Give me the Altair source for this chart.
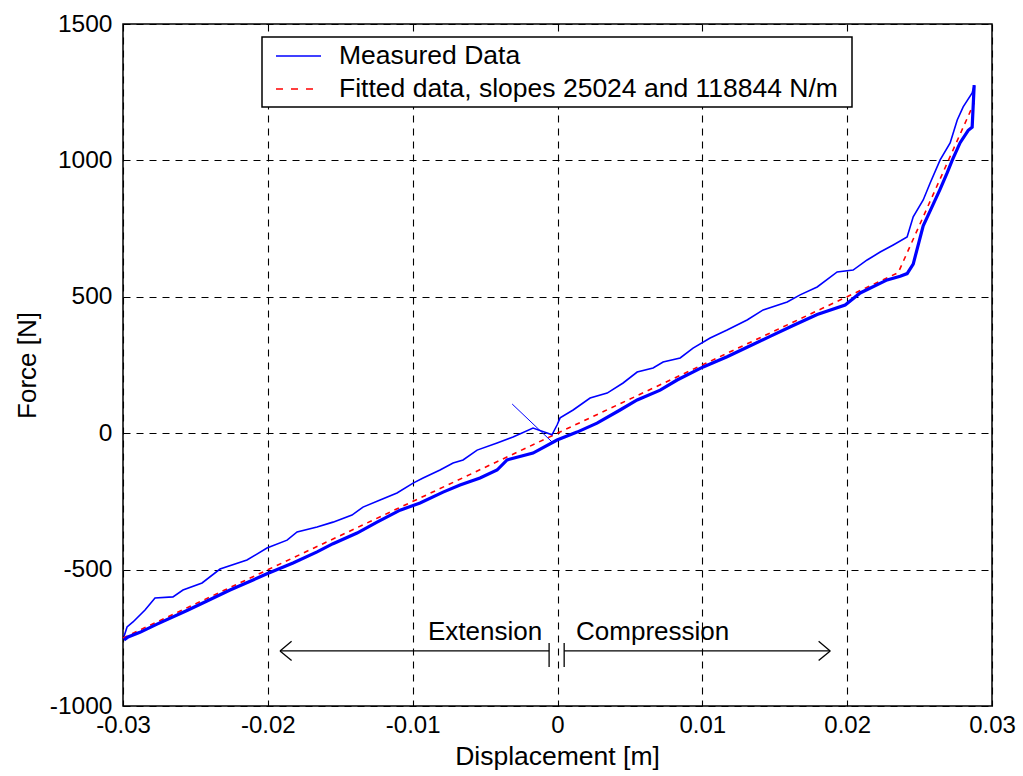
import altair as alt
import pandas as pd

upper_x = [-0.02993, -0.02972, -0.02931, -0.02848, -0.02779, -0.02655, -0.02586, -0.02454, -0.02330,
           -0.02144, -0.02006, -0.01867, -0.01798, -0.01660, -0.01550, -0.01419, -0.01343, -0.01225,
           -0.01108, -0.00997, -0.00928, -0.00811, -0.00721, -0.00652, -0.00555, -0.00417, -0.00307,
           -0.00169, -0.00072, -0.00038, -0.00003, 0.00018, 0.00108, 0.00225, 0.00343, 0.00453, 0.00550,
           0.00660, 0.00729, 0.00847, 0.00936, 0.01054, 0.01171, 0.01309, 0.01420, 0.01586, 0.01675,
           0.01793, 0.01931, 0.02041, 0.02138, 0.02228, 0.02318, 0.02414, 0.02456, 0.02525, 0.02573,
           0.02642, 0.02711, 0.02760, 0.02801, 0.02863, 0.02877]
upper_y = [-745, -710, -692, -648, -604, -600, -575, -549, -498,
           -465, -421, -392, -362, -344, -326, -300, -271, -245,
           -219, -183, -164, -135, -109, -98, -62, -36, -14,
           19, 1, -6, 30, 56, 85, 129, 147, 184, 224,
           239, 261, 276, 312, 349, 378, 415, 452, 481, 507,
           536, 591, 598, 635, 664, 690, 719, 793, 855, 917,
           1002, 1064, 1148, 1196, 1247, 1276]

# Measured data, lower branch
lower_x = [-0.02993, -0.02965, -0.02883, -0.02765, -0.02558, -0.02420, -0.02261, -0.02102, -0.02006,
           -0.01826, -0.01660, -0.01550, -0.01384, -0.01246, -0.01087, -0.00949, -0.00790, -0.00673,
           -0.00535, -0.00417, -0.00348, -0.00169, -0.00003, 0.00135, 0.00273, 0.00432, 0.00550,
           0.00709, 0.00826, 0.01006, 0.01171, 0.01309, 0.01468, 0.01627, 0.01793, 0.01986, 0.02090,
           0.02276, 0.02366, 0.02414, 0.02456, 0.02525, 0.02573, 0.02642, 0.02691, 0.02725, 0.02780,
           0.02836, 0.02863, 0.02877]
lower_y = [-758, -747, -730, -700, -650, -615, -575, -538, -515,
           -476, -435, -405, -366, -326, -282, -256, -216, -190,
           -164, -135, -98, -73, -25, 4, 37, 85, 122,
           158, 195, 243, 280, 315, 355, 395, 435, 470, 514,
           562, 575, 585, 620, 760, 815, 895, 955, 1000, 1065,
           1110, 1122, 1276]

# Start-up transient of the measurement
spike_x = [-0.00313, -0.00030]
spike_y = [107, -36]

# Fitted piecewise-linear model (slopes 25024 and 118844 N/m)
fit_x = [-0.0300, 0.02353, 0.02877]
fit_y = [-750.7, 588.8, 1211.6]

# Annotation arrows
arrow_x = [-0.00058, 0.00046, -0.01916, -0.01916, -0.01916, 0.01883, 0.01883, 0.01883, -0.00058, 0.00046]
arrow_x2 = [-0.01916, 0.01883, -0.01836, -0.01836, -0.01916, 0.01803, 0.01803, 0.01883, -0.00058, 0.00046]
arrow_y = [-798, -798, -798, -798, -798, -798, -798, -798, -769, -769]
arrow_y2 = [-798, -798, -763, -833, -798, -763, -833, -798, -857, -857]

x_ticks = [-0.03, -0.02, -0.01, 0, 0.01, 0.02, 0.03]
y_ticks = [-1000, -500, 0, 500, 1000, 1500]

FONT = "Liberation Sans"

xaxis = alt.Axis(values=x_ticks, title="Displacement [m]", grid=True, ticks=False, domain=False,
                 labelExpr="datum.value == 0 ? '0' : toString(round(datum.value*100)/100)",
                 labelPadding=7, labelFontSize=24, titleFontSize=26.5, titleFontWeight="normal",
                 titleX=434, titleY=50, titleBaseline="middle", labelOverlap=False, labelFlush=False)
yaxis = alt.Axis(values=y_ticks, title="Force [N]", grid=True, ticks=False, domain=False,
                 labelExpr="toString(datum.value)", labelPadding=11, labelFontSize=24.5,
                 titleFontSize=26, titleFontWeight="normal", titleX=-96, titleY=341,
                 titleAngle=270, titleAlign="center", titleBaseline="middle", labelOverlap=False,
                 labelFlush=False)

X = alt.X("x:Q", scale=alt.Scale(domain=[-0.03, 0.03], nice=False, zero=False), axis=xaxis)
Y = alt.Y("y:Q", scale=alt.Scale(domain=[-1000, 1500], nice=False, zero=False), axis=yaxis)

upper_df = pd.DataFrame({"x": upper_x, "y": upper_y})
lower_df = pd.DataFrame({"x": lower_x, "y": lower_y})
spike_df = pd.DataFrame({"x": spike_x, "y": spike_y})
fit_df = pd.DataFrame({"x": fit_x, "y": fit_y})
arrow_df = pd.DataFrame({"x": arrow_x, "x2": arrow_x2, "y": arrow_y, "y2": arrow_y2})
ext_df = pd.DataFrame({"x": [-0.00106], "y": [-758], "t": ["Extension"]})
comp_df = pd.DataFrame({"x": [0.00128], "y": [-758], "t": ["Compression"]})
one = pd.DataFrame({"a": [0]})

upper = alt.Chart(upper_df).mark_line(color="#0000ff", strokeWidth=1.6).encode(x=X, y=Y)
lower = alt.Chart(lower_df).mark_line(color="#0000ff", strokeWidth=3.2).encode(x=X, y=Y)
spike = alt.Chart(spike_df).mark_line(color="#0000ff", strokeWidth=1).encode(x=X, y=Y)
fit = alt.Chart(fit_df).mark_line(color="#ff0000", strokeWidth=1.6, strokeDash=[5, 5]).encode(x=X, y=Y)
arrows = alt.Chart(arrow_df).mark_rule(color="black", strokeWidth=1.3).encode(x=X, y=Y, x2="x2:Q", y2="y2:Q")
ext = alt.Chart(ext_df).mark_text(font=FONT, fontSize=26, align="right",
                                  baseline="alphabetic", color="black").encode(x=X, y=Y, text="t:N")
comp = alt.Chart(comp_df).mark_text(font=FONT, fontSize=26, align="left",
                                    baseline="alphabetic", color="black").encode(x=X, y=Y, text="t:N")

# Legend box (MATLAB style)
leg_box = alt.Chart(one).mark_rect(fill="white", stroke="black", strokeWidth=1.5).encode(
    x=alt.value(139), x2=alt.value(729), y=alt.value(13), y2=alt.value(83))
leg_l1 = alt.Chart(one).mark_rule(color="#0000ff", strokeWidth=1.6).encode(
    x=alt.value(153), x2=alt.value(198), y=alt.value(32))
leg_l2 = alt.Chart(one).mark_rule(color="#ff0000", strokeWidth=1.6, strokeDash=[7, 8]).encode(
    x=alt.value(153), x2=alt.value(198), y=alt.value(65))
leg_t1 = alt.Chart(one).mark_text(font=FONT, fontSize=26.5, align="left", baseline="middle", color="black",
                                  text="Measured Data").encode(x=alt.value(216), y=alt.value(32))
leg_t2 = alt.Chart(one).mark_text(font=FONT, fontSize=26.5, align="left", baseline="middle", color="black",
                                  text="Fitted data, slopes 25024 and 118844 N/m").encode(x=alt.value(216), y=alt.value(65))

chart = alt.layer(fit, lower, upper, spike, arrows, ext, comp, leg_box, leg_l1, leg_l2, leg_t1, leg_t2).properties(
    width=869, height=682,
    autosize=alt.AutoSizeParams(type="none"),
    padding={"left": 123, "top": 24, "right": 31, "bottom": 70},
    background="white",
).configure_view(stroke="black", strokeWidth=1.5).configure_axis(
    gridColor="black", gridDash=[7, 6], gridWidth=1.1, gridOpacity=1,
    labelFont=FONT, titleFont=FONT, labelColor="black", titleColor="black",
)

chart.save("out.html", embed_options={"renderer": "svg", "actions": False})
